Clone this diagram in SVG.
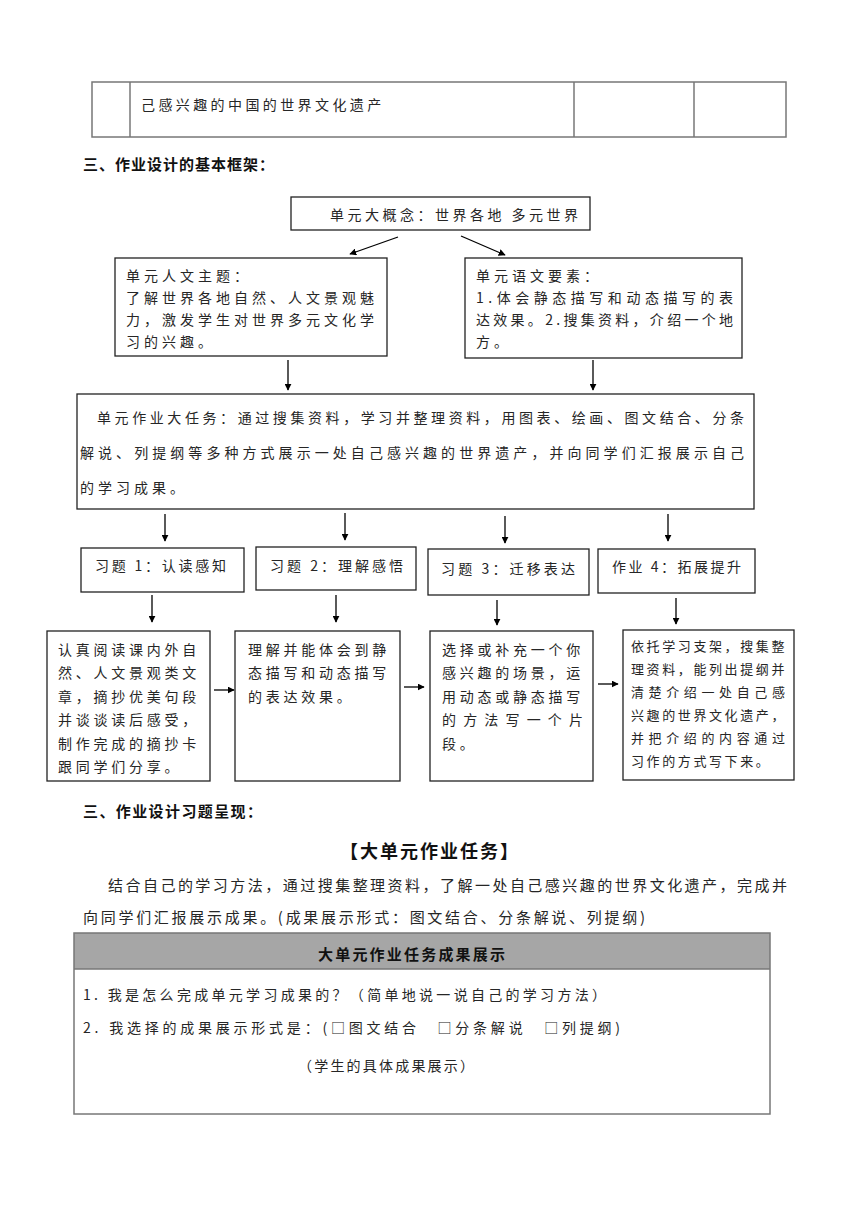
<svg xmlns="http://www.w3.org/2000/svg" width="860" height="1216" viewBox="0 0 860 1216">
<style>
text{font-family:"Noto Sans CJK SC","Noto Sans",sans-serif;font-size:14px;fill:#262626;}
.b{font-weight:bold;font-size:15px;fill:#111;}
.box{fill:#fff;stroke:#222;stroke-width:1.3;}
.tb{fill:none;stroke:#777;stroke-width:1.5;}
.c{stroke:#000;stroke-width:1.3;fill:none;marker-end:url(#ah);}
.t1{letter-spacing:3.75px;}
.t2{letter-spacing:4px;}
</style>
<defs>
<marker id="ah" viewBox="0 0 10 10" refX="9" refY="5" markerWidth="7" markerHeight="7" markerUnits="userSpaceOnUse" orient="auto">
<path d="M0,0 L10,5 L0,10 z" fill="#000"/>
</marker>
</defs>
<rect width="860" height="1216" fill="#fff"/>

<g id="top-table">
<rect class="tb" x="92" y="82" width="694" height="55"/>
<line class="tb" x1="130" y1="82" x2="130" y2="137"/>
<line class="tb" x1="574" y1="82" x2="574" y2="137"/>
<line class="tb" x1="694" y1="82" x2="694" y2="137"/>
<text x="141" y="110" style="letter-spacing:3.4px">己感兴趣的中国的世界文化遗产</text>
</g>

<text class="b" x="83" y="170" style="letter-spacing:1px">三、作业设计的基本框架：</text>

<g id="concept">
<rect class="box" x="291" y="197" width="299" height="33"/>
<text x="330" y="220" textLength="248" lengthAdjust="spacing">单元大概念：世界各地 多元世界</text>
</g>

<g id="theme">
<rect class="box" x="115" y="258" width="272" height="98"/>
<text class="t2" x="126" y="281">单元人文主题：</text>
<text class="t2" x="126" y="303">了解世界各地自然、人文景观魅</text>
<text class="t2" x="126" y="325">力，激发学生对世界多元文化学</text>
<text class="t2" x="126" y="347">习的兴趣。</text>
</g>

<g id="elements">
<rect class="box" x="465" y="258" width="277" height="100"/>
<text class="t2" x="476" y="281">单元语文要素：</text>
<text x="476" y="303" textLength="257" lengthAdjust="spacing">1.体会静态描写和动态描写的表</text>
<text x="476" y="325" textLength="257" lengthAdjust="spacing">达效果。2.搜集资料，介绍一个地</text>
<text class="t2" x="476" y="347">方。</text>
</g>

<g id="task">
<rect class="box" x="77" y="394" width="677" height="115"/>
<text x="97" y="423" textLength="647" lengthAdjust="spacing">单元作业大任务：通过搜集资料，学习并整理资料，用图表、绘画、图文结合、分条</text>
<text x="80" y="458" textLength="664" lengthAdjust="spacing">解说、列提纲等多种方式展示一处自己感兴趣的世界遗产，并向同学们汇报展示自己</text>
<text class="t2" x="80" y="493">的学习成果。</text>
</g>

<g id="ex1">
<rect class="box" x="81" y="548" width="163" height="44"/>
<text x="95" y="571" textLength="131" lengthAdjust="spacing">习题 1：认读感知</text>
</g>
<g id="ex2">
<rect class="box" x="256" y="547" width="160" height="43"/>
<text x="270" y="571" textLength="133" lengthAdjust="spacing">习题 2：理解感悟</text>
</g>
<g id="ex3">
<rect class="box" x="428" y="549" width="161" height="46"/>
<text x="441" y="574" textLength="134" lengthAdjust="spacing">习题 3：迁移表达</text>
</g>
<g id="ex4">
<rect class="box" x="598" y="549" width="157" height="44"/>
<text x="612" y="572" textLength="129" lengthAdjust="spacing">作业 4：拓展提升</text>
</g>

<g id="d1">
<rect class="box" x="47" y="631" width="163" height="150"/>
<text class="t1" x="58" y="655">认真阅读课内外自</text>
<text class="t1" x="58" y="678">然、人文景观类文</text>
<text class="t1" x="58" y="702">章，摘抄优美句段</text>
<text class="t1" x="58" y="725">并谈谈读后感受，</text>
<text class="t1" x="58" y="749">制作完成的摘抄卡</text>
<text class="t1" x="58" y="772">跟同学们分享。</text>
</g>
<g id="d2">
<rect class="box" x="235" y="631" width="165" height="150"/>
<text class="t1" x="248" y="655">理解并能体会到静</text>
<text class="t1" x="248" y="678">态描写和动态描写</text>
<text class="t1" x="248" y="702">的表达效果。</text>
</g>
<g id="d3">
<rect class="box" x="430" y="631" width="163" height="150"/>
<text class="t1" x="442" y="655">选择或补充一个你</text>
<text class="t1" x="442" y="678">感兴趣的场景，运</text>
<text class="t1" x="442" y="702">用动态或静态描写</text>
<text x="442" y="725" textLength="141" lengthAdjust="spacing">的方法写一个片</text>
<text class="t1" x="442" y="749">段。</text>
</g>
<g id="d4">
<rect class="box" x="623" y="630" width="171" height="150"/>
<text x="631" y="651" style="font-size:13px;letter-spacing:2.6px">依托学习支架，搜集整</text>
<text x="631" y="674" style="font-size:13px;letter-spacing:2.6px">理资料，能列出提纲并</text>
<text x="631" y="697" textLength="154" lengthAdjust="spacing" style="font-size:13px">清楚介绍一处自己感</text>
<text x="631" y="720" style="font-size:13px;letter-spacing:2.6px">兴趣的世界文化遗产，</text>
<text x="631" y="743" textLength="154" lengthAdjust="spacing" style="font-size:13px">并把介绍的内容通过</text>
<text x="631" y="766" style="font-size:13px;letter-spacing:2.6px">习作的方式写下来。</text>
</g>

<g id="connectors">
<line class="c" x1="398" y1="237" x2="350" y2="254"/>
<line class="c" x1="461" y1="236" x2="505" y2="255"/>
<line class="c" x1="288" y1="360" x2="288" y2="390"/>
<line class="c" x1="593" y1="360" x2="593" y2="390"/>
<line class="c" x1="165" y1="514" x2="165" y2="541"/>
<line class="c" x1="345" y1="513" x2="345" y2="540"/>
<line class="c" x1="505" y1="516" x2="505" y2="543"/>
<line class="c" x1="668" y1="514" x2="668" y2="541"/>
<line class="c" x1="152" y1="595" x2="152" y2="622"/>
<line class="c" x1="336" y1="595" x2="336" y2="622"/>
<line class="c" x1="497" y1="600" x2="497" y2="625"/>
<line class="c" x1="676" y1="598" x2="676" y2="624"/>
<line class="c" x1="214" y1="690" x2="234" y2="690"/>
<line class="c" x1="404" y1="687" x2="424" y2="687"/>
<line class="c" x1="598" y1="684" x2="618" y2="684"/>
</g>

<text class="b" x="83" y="817" style="letter-spacing:1.4px">三、作业设计习题呈现：</text>
<text class="b" x="340" y="858" textLength="178" lengthAdjust="spacing" style="font-size:18px">【大单元作业任务】</text>
<text x="108" y="891" textLength="679" lengthAdjust="spacing" style="font-size:15px">结合自己的学习方法，通过搜集整理资料，了解一处自己感兴趣的世界文化遗产，完成并</text>
<text x="83" y="923" textLength="562" lengthAdjust="spacing" style="font-size:15px">向同学们汇报展示成果。(成果展示形式：图文结合、分条解说、列提纲)</text>

<g id="result-table">
<rect x="74" y="933" width="696" height="36" fill="#a6a6a6"/>
<rect class="tb" x="74" y="933" width="696" height="181"/>
<line class="tb" x1="74" y1="969" x2="770" y2="969"/>
<text x="318" y="960" style="font-weight:bold;font-size:15px;letter-spacing:2.2px;fill:#111">大单元作业任务成果展示</text>
<text x="83" y="1000" textLength="523" lengthAdjust="spacing">1. 我是怎么完成单元学习成果的？（简单地说一说自己的学习方法）</text>
<text x="83" y="1033" textLength="537" lengthAdjust="spacing">2. 我选择的成果展示形式是：(□图文结合　□分条解说　□列提纲)</text>
<text x="298" y="1071" textLength="176" lengthAdjust="spacing">（学生的具体成果展示）</text>
</g>
</svg>
